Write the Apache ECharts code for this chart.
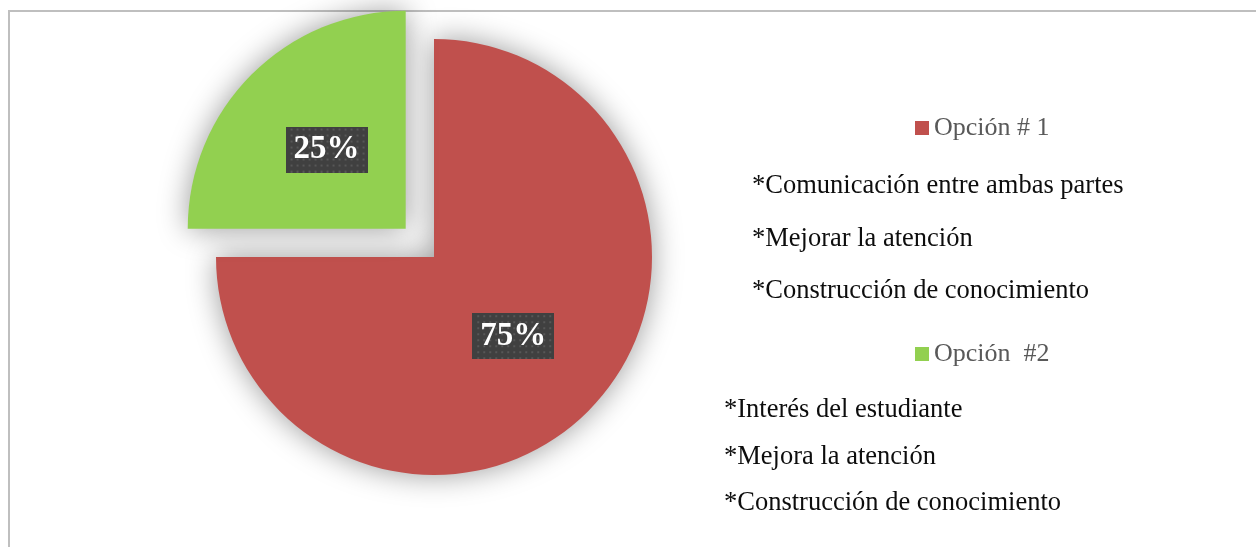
<!DOCTYPE html>
<html>
<head>
<meta charset="utf-8">
<script src="https://cdn.jsdelivr.net/npm/echarts@6/dist/echarts.min.js"></script>
<style>
    html, body { margin: 0; padding: 0; background: #fff; }
    #chart { width: 1256px; height: 547px; }
</style>
</head>
<body>
<div id="chart"></div>
<script>
// datos del grafico
const categories = ['Opción # 1', 'Opción  #2'];
const values = [75, 25];
const colors = ['#C0504D', '#92D050'];
const notesOpcion1 = ['*Comunicación entre ambas partes', '*Mejorar la atención', '*Construcción de conocimiento'];
const notesOpcion2 = ['*Interés del estudiante', '*Mejora la atención', '*Construcción de conocimiento'];

// fondo punteado de las etiquetas
function labelPattern() {
    let c = document.createElement('canvas');
    c.width = 82;
    c.height = 46;
    let ctx = c.getContext('2d');
    ctx.fillStyle = '#404040';
    ctx.fillRect(0, 0, c.width, c.height);
    ctx.fillStyle = '#575757';
    for (let y = 2; y < c.height; y += 6) {
        for (let x = (y / 6) % 2 ? 5 : 2; x < c.width; x += 6) {
            ctx.fillRect(x, y, 2, 2);
        }
    }
    return c;
}

let chart = echarts.init(document.getElementById('chart'));
let pattern = labelPattern();

function noteTexts(lines, left, tops) {
    return lines.map(function (t, i) {
        return {
            type: 'text',
            style: {
                text: t,
                x: left,
                y: tops[i],
                verticalAlign: 'middle',
                font: '26.5px "Liberation Serif", "Times New Roman", serif',
                fill: '#0d0d0d'
            }
        };
    });
}

let option = {
    backgroundColor: '#fff',
    animation: false,
    color: colors,
    legend: [{
        orient: 'vertical',
        left: 910,
        top: 110,
        icon: 'rect',
        itemWidth: 14,
        itemHeight: 14,
        selectedMode: false,
        textStyle: { fontFamily: 'Liberation Serif', fontSize: 26, color: '#595959' },
        data: [categories[0]]
    }, {
        orient: 'vertical',
        left: 910,
        top: 336,
        icon: 'rect',
        itemWidth: 14,
        itemHeight: 14,
        selectedMode: false,
        textStyle: { fontFamily: 'Liberation Serif', fontSize: 26, color: '#595959' },
        data: [categories[1]]
    }],
    graphic: [{
        type: 'rect',
        shape: { x: 9, y: 11, width: 1400, height: 700 },
        style: { fill: 'none', stroke: '#bfbfbf', lineWidth: 2 },
        silent: true
    }].concat(noteTexts(notesOpcion1, 752, [186, 239, 291]))
      .concat(noteTexts(notesOpcion2, 724, [410, 457, 503])),
    series: [{
        type: 'pie',
        center: [434, 257],
        radius: 218,
        startAngle: 90,
        clockwise: true,
        selectedMode: 'single',
        selectedOffset: 40,
        emphasis: { disabled: true },
        itemStyle: {
            shadowBlur: 30,
            shadowColor: 'rgba(0,0,0,0.4)'
        },
        label: {
            show: true,
            position: 'inside',
            formatter: '{d}%',
            fontFamily: 'Liberation Serif',
            fontWeight: 'bold',
            fontSize: 33,
            lineHeight: 34,
            color: '#fff',
            padding: [6, 8],
            backgroundColor: { image: pattern },
            shadowColor: 'rgba(0,0,0,0.45)',
            shadowBlur: 6,
            shadowOffsetX: 4,
            shadowOffsetY: 4
        },
        labelLine: { show: false },
        data: categories.map(function (name, i) {
            return { name: name, value: values[i], selected: i === 1 };
        })
    }]
};

chart.setOption(option);
</script>
</body>
</html>
